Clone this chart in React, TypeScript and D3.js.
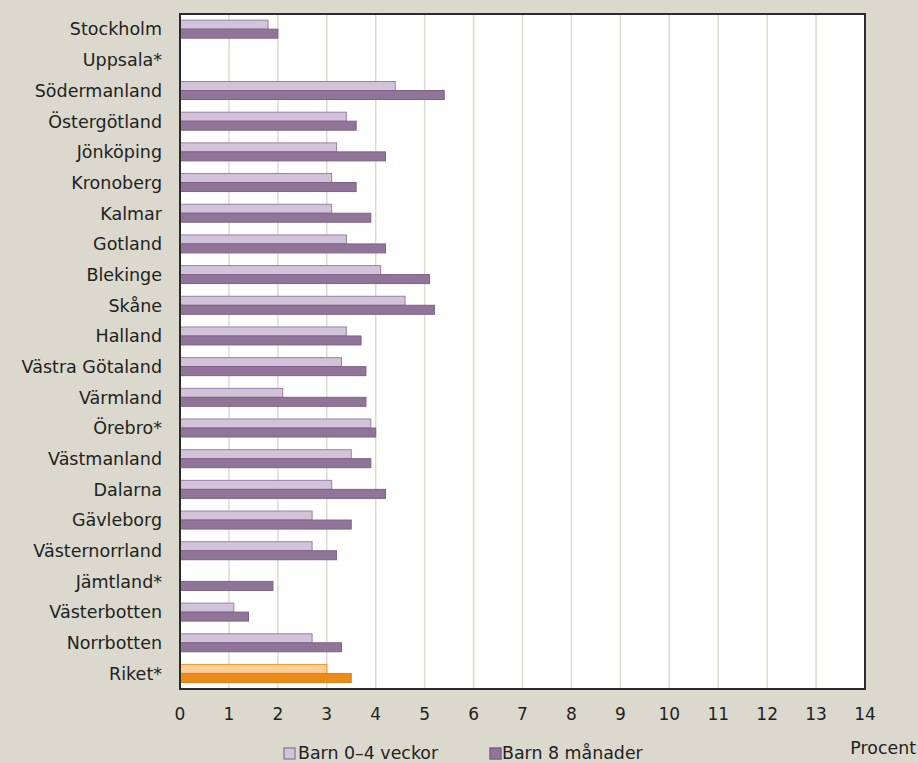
import React from "react";
import * as d3 from "d3";

const categories = ["Stockholm","Uppsala*","Södermanland","Östergötland","Jönköping","Kronoberg","Kalmar","Gotland","Blekinge","Skåne","Halland","Västra Götaland","Värmland","Örebro*","Västmanland","Dalarna","Gävleborg","Västernorrland","Jämtland*","Västerbotten","Norrbotten","Riket*"];
const weeks04: (number | null)[] = [1.8,null,4.4,3.4,3.2,3.1,3.1,3.4,4.1,4.6,3.4,3.3,2.1,3.9,3.5,3.1,2.7,2.7,null,1.1,2.7,3.0];
const months8: (number | null)[] = [2.0,null,5.4,3.6,4.2,3.6,3.9,4.2,5.1,5.2,3.7,3.8,3.8,4.0,3.9,4.2,3.5,3.2,1.9,1.4,3.3,3.5];
const xTicks = [0,1,2,3,4,5,6,7,8,9,10,11,12,13,14];
const seriesNames = ["Barn 0–4 veckor","Barn 8 månader"];
const axisTitle = "Procent";

const W = 918, H = 763;
const L = 180, R = 865, T = 14, B = 689;
const FONT = "'Century Gothic', 'URW Gothic', 'DejaVu Sans', sans-serif";

export default function App() {
  const x = d3.scaleLinear().domain([0, 14]).range([L, R]);
  const y = d3.scaleBand<string>().domain(categories).range([T, B]).padding(0);
  const bh = 9;
  const lightFill = "#d2c4d8", lightStroke = "#9b80a6";
  const darkFill = "#917599", darkStroke = "#7e6089";
  const oLightFill = "#fbcf98", oLightStroke = "#ee9a2a";
  const oDarkFill = "#ec8b1a", oDarkStroke = "#e07f10";
  const txt = "#222222";
  return (
    <div style={{ position: "fixed", left: 0, top: 0, width: W, height: H }}>
      <svg width={W} height={H} style={{ display: "block", fontFamily: FONT }}>
        <rect x={0} y={0} width={W} height={H} fill="#dbd9cd" />
        <rect x={L} y={T} width={R - L} height={B - T} fill="#ffffff" />
        {xTicks.filter(t => t > 0).map(t => (
          <line key={t} x1={x(t)} x2={x(t)} y1={T} y2={B} stroke="#dddbd0" strokeWidth={1.5} />
        ))}
        {categories.map((c, i) => {
          const cy = (y(c) as number) + y.bandwidth() / 2;
          const isR = c === "Riket*";
          const a = weeks04[i], b = months8[i];
          return (
            <g key={c}>
              {a != null && (
                <rect x={x(0)} y={cy - bh - 0.2} width={x(a) - x(0)} height={bh}
                  fill={isR ? oLightFill : lightFill} stroke={isR ? oLightStroke : lightStroke} strokeWidth={1} />
              )}
              {b != null && (
                <rect x={x(0)} y={cy - 0.2} width={x(b) - x(0)} height={bh}
                  fill={isR ? oDarkFill : darkFill} stroke={isR ? oDarkStroke : darkStroke} strokeWidth={1} />
              )}
              <text x={162} y={cy} dy="0.35em" textAnchor="end" fontSize={17.5} fill={txt}>{c}</text>
            </g>
          );
        })}
        <rect x={L} y={T} width={R - L} height={B - T} fill="none" stroke="#2b2b2b" strokeWidth={2} />
        {xTicks.map(t => (
          <text key={t} x={x(t)} y={714} dy="0.35em" textAnchor="middle" fontSize={17} fill={txt}>{t}</text>
        ))}
        <rect x={284} y={748} width={11} height={11} fill={lightFill} stroke={lightStroke} strokeWidth={1.5} />
        <text x={298} y={759} fontSize={17.4} fill={txt}>{seriesNames[0]}</text>
        <rect x={490} y={748} width={11} height={11} fill={darkFill} stroke={darkStroke} strokeWidth={1.5} />
        <text x={502} y={759} fontSize={17.4} fill={txt}>{seriesNames[1]}</text>
        <text x={916} y={754} textAnchor="end" fontSize={17.4} fill={txt}>{axisTitle}</text>
      </svg>
    </div>
  );
}
